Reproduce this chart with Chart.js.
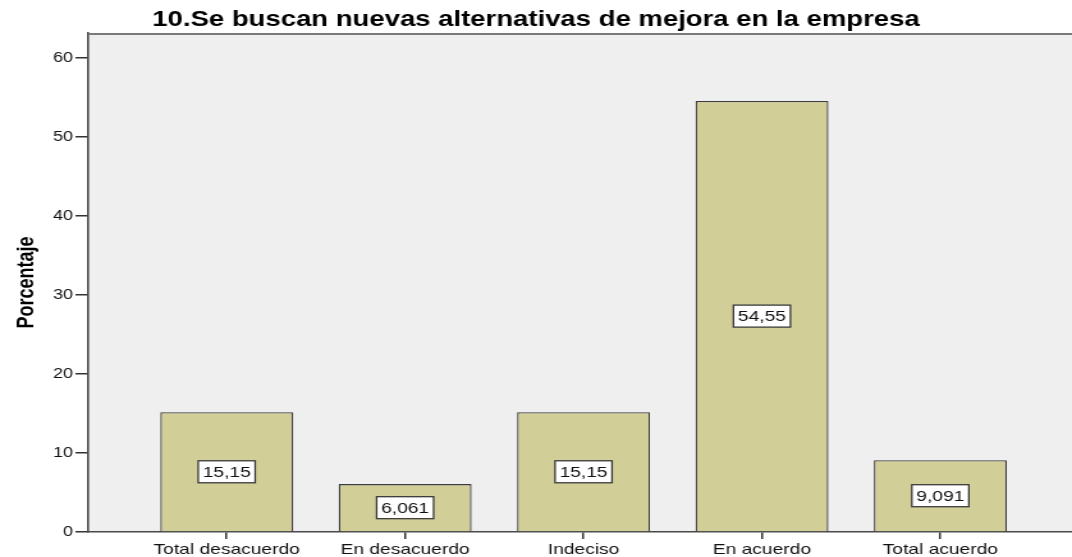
<!DOCTYPE html>
<html>
<head>
<meta charset="utf-8">
<script src="https://cdn.jsdelivr.net/npm/chart.js@4.4.0/dist/chart.umd.min.js"></script>
<style>
  html, body { margin: 0; padding: 0; background: #fff; overflow: hidden; }
  #myChart { display: block; }
</style>
</head>
<body>
<!-- the source picture is stretched sideways, so the canvas is drawn narrow and widened by css -->
<canvas id="myChart" width="838" height="557" style="width:1072px;height:557px"></canvas>
<script>
'use strict';
let categories = ['Total desacuerdo', 'En desacuerdo', 'Indeciso', 'En acuerdo', 'Total acuerdo'];
let percentages = [15.15, 6.061, 15.15, 54.55, 9.091];
let yTicks = [0, 10, 20, 30, 40, 50, 60];
let chartTitle = '10.Se buscan nuevas alternativas de mejora en la empresa';
let yTitle = 'Porcentaje';

let fontFamily = '"Liberation Sans", Arial, sans-serif';

// grey plot background + top frame line
let plotFrame = {
  id: 'plotFrame',
  beforeDraw(chart) {
    let a = chart.chartArea;
    let ctx = chart.ctx;
    ctx.save();
    ctx.fillStyle = '#efefef';
    ctx.fillRect(a.left, a.top, a.right - a.left, a.bottom - a.top);
    ctx.restore();
  },
  afterDraw(chart) {
    let a = chart.chartArea;
    let ctx = chart.ctx;
    ctx.save();
    ctx.strokeStyle = '#7a7a7a';
    ctx.lineWidth = 2;
    ctx.beginPath();
    ctx.moveTo(a.left, a.top + 1);
    ctx.lineTo(a.right, a.top + 1);
    ctx.stroke();
    ctx.restore();
  }
};

// white value boxes in the middle of each bar
let valueBoxes = {
  id: 'valueBoxes',
  afterDatasetsDraw(chart) {
    let ctx = chart.ctx;
    let meta = chart.getDatasetMeta(0);
    ctx.save();
    ctx.font = '15px ' + fontFamily;
    ctx.textAlign = 'center';
    ctx.textBaseline = 'middle';
    meta.data.forEach(function(bar, i) {
      let txt = String(percentages[i]).replace('.', ',');
      let cy = (bar.y + bar.base) / 2;
      let w = ctx.measureText(txt).width + 7;
      let h = 22;
      ctx.fillStyle = '#ffffff';
      ctx.fillRect(bar.x - w / 2, cy - h / 2, w, h);
      ctx.strokeStyle = '#3a3a3a';
      ctx.lineWidth = 1.3;
      ctx.strokeRect(bar.x - w / 2, cy - h / 2, w, h);
      ctx.fillStyle = '#111';
      ctx.fillText(txt, bar.x, cy + 1);
    });
    ctx.restore();
  }
};

let ctx = document.getElementById('myChart').getContext('2d');
let myChart = new Chart(ctx, {
  type: 'bar',
  data: {
    datasets: [{
      label: yTitle,
      data: categories.map(function(c, i) { return { x: i, y: percentages[i] }; }),
      backgroundColor: '#d2ce98',
      borderColor: '#3c3c3c',
      borderWidth: 1.3,
      barPercentage: 0.745,
      categoryPercentage: 1
    }]
  },
  options: {
    responsive: false,
    animation: false,
    layout: { padding: 0 },
    plugins: {
      legend: { display: false },
      tooltip: { enabled: false },
      title: {
        display: true,
        text: chartTitle,
        color: '#000',
        font: { family: fontFamily, size: 21.5, weight: 'bold', lineHeight: 1.1 },
        padding: { top: 8.5, bottom: 0.8 }
      }
    },
    scales: {
      x: {
        type: 'linear',
        offset: false,
        min: -0.776,
        max: 4.738,
        afterBuildTicks: function(scale) {
          scale.ticks = categories.map(function(c, i) { return { value: i }; });
        },
        afterFit: function(scale) { scale.height = 25; },
        ticks: {
          autoSkip: false,
          maxRotation: 0,
          padding: 2,
          color: '#111',
          font: { family: fontFamily, size: 15 },
          callback: function(v) { return categories[v]; }
        },
        grid: { display: true, offset: false, drawOnChartArea: false, drawTicks: true, tickLength: 7, color: '#333', lineWidth: 1.5 },
        border: { display: true, color: '#4a4a4a', width: 1.6 }
      },
      y: {
        min: 0,
        max: 63.16,
        afterBuildTicks: function(scale) {
          scale.ticks = yTicks.map(function(v) { return { value: v }; });
        },
        afterFit: function(scale) { scale.width = 69; },
        ticks: {
          padding: 2,
          color: '#111',
          font: { family: fontFamily, size: 14 }
        },
        grid: { display: true, drawOnChartArea: false, drawTicks: true, tickLength: 10, color: '#333', lineWidth: 1.5 },
        border: { display: true, color: '#4a4a4a', width: 1.6 },
        title: {
          display: true,
          text: yTitle,
          color: '#000',
          font: { family: fontFamily, size: 18, weight: 'bold', lineHeight: 1.2 },
          padding: { top: 10, bottom: 0 }
        }
      }
    }
  },
  plugins: [plotFrame, valueBoxes]
});
</script>
</body>
</html>
